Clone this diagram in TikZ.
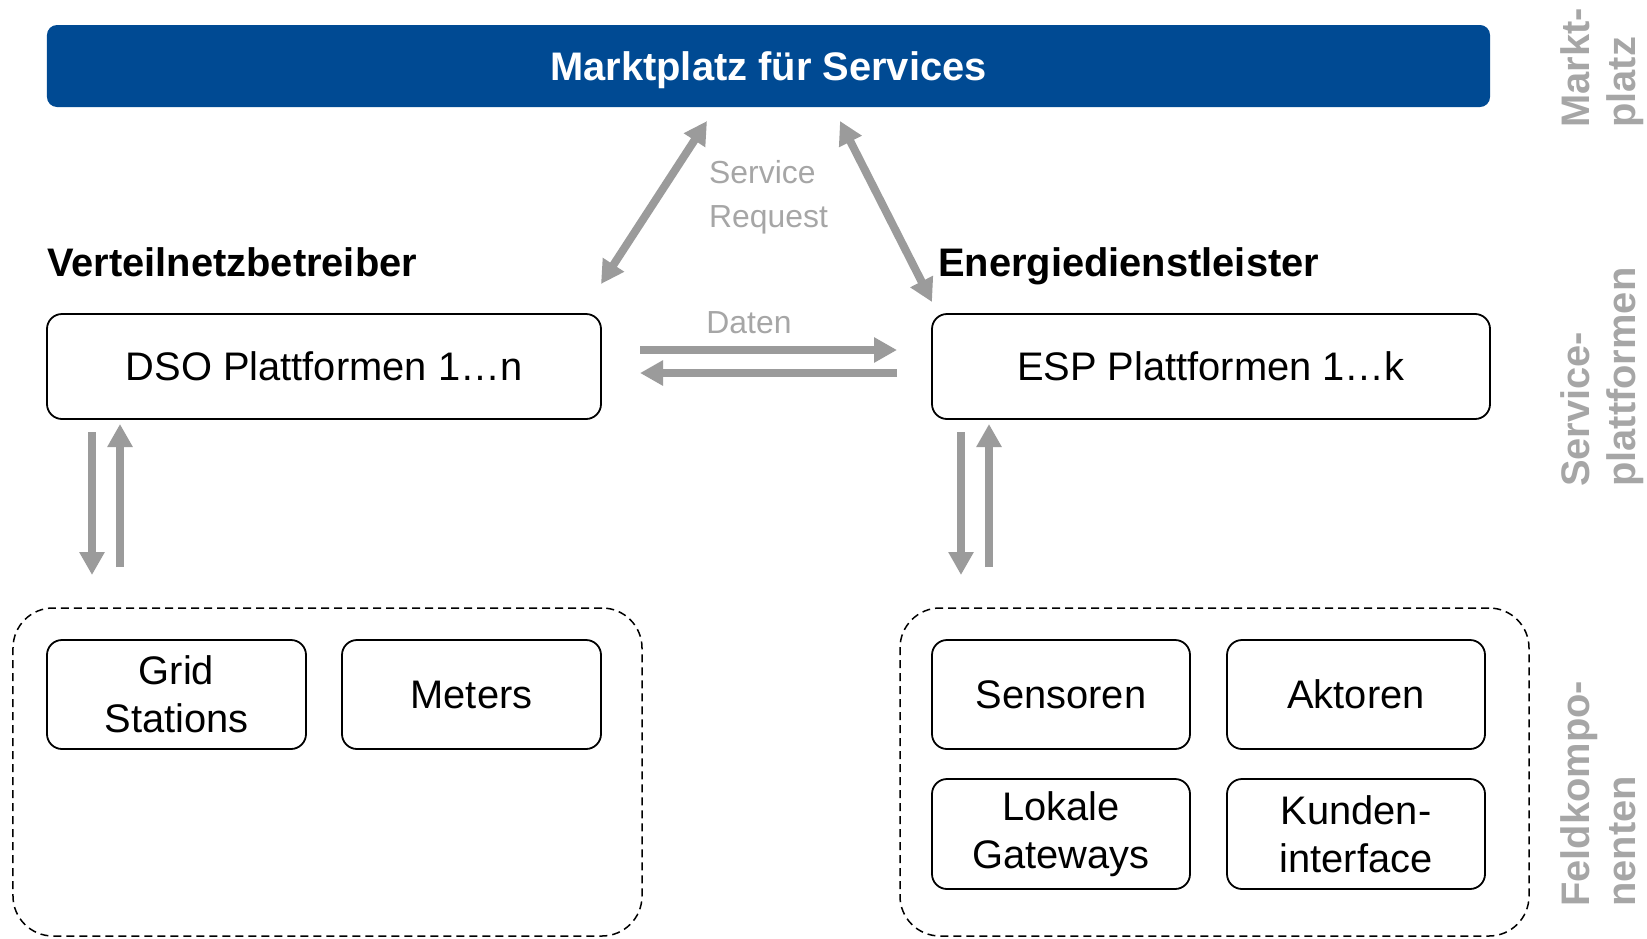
\documentclass[tikz,border=0pt]{standalone}
\usepackage{fontspec}
\setmainfont{Liberation Sans}
\usetikzlibrary{arrows.meta}
\definecolor{barblue}{HTML}{004A93}
\definecolor{flowgray}{HTML}{9B9B9B}
\definecolor{labelgray}{HTML}{A6A6A6}
\tikzset{
  box/.style={draw=black, line width=1.8bp, rounded corners=15bp, inner sep=0pt,
    align=center, font=\fontsize{40}{48}\selectfont},
  group/.style={draw=black, line width=1.5bp, dash pattern=on 8bp off 5bp,
    rounded corners=40bp, inner sep=0pt},
  tipshape/.tip={Triangle[width=24bp,length=23bp]},
  flow/.style={draw=flowgray, line width=8bp, -tipshape},
  flowboth/.style={draw=flowgray, line width=8bp, tipshape-tipshape},
  heading/.style={anchor=base west, inner sep=0pt, font=\bfseries\fontsize{40}{48}\selectfont},
  side/.style={rotate=90, anchor=north west, align=left, inner sep=0pt,
    text=labelgray, font=\bfseries\fontsize{40}{47}\selectfont},
}
\begin{document}
\begin{tikzpicture}[x=1bp,y=-1bp]
\useasboundingbox (0,0) rectangle (1647,938);

% marketplace bar
\node[fill=barblue, rounded corners=10bp, minimum width=1443bp, minimum height=82bp,
  inner sep=0pt, text depth=0pt, text=white, font=\bfseries\fontsize{40}{48}\selectfont]
  (market) at (768.5,66) {Marktplatz für Services};

% headings
\node[heading] (dsoHead) at (47,276) {Verteilnetzbetreiber};
\node[heading] (espHead) at (938,276) {Energiedienstleister};

% service platforms
\node[box, minimum width=554bp, minimum height=105bp] (dso) at (324,366.5) {DSO Plattformen 1…n};
\node[box, minimum width=558bp, minimum height=105bp] (esp) at (1211,366.5) {ESP Plattformen 1…k};

% field component groups
\node[group, minimum width=629bp, minimum height=328bp] (dsoField) at (327.5,772) {};
\node[group, minimum width=629bp, minimum height=328bp] (espField) at (1214.5,772) {};

% field components
\node[box, minimum width=259bp, minimum height=109bp] (grid) at (176.5,694.5) {Grid\\Stations};
\node[box, minimum width=259bp, minimum height=109bp] (meters) at (471.5,694.5) {Meters};
\node[box, minimum width=258bp, minimum height=109bp] (sens) at (1061,694.5) {Sensoren};
\node[box, minimum width=258bp, minimum height=109bp] (akt) at (1356,694.5) {Aktoren};
\node[box, minimum width=258bp, minimum height=110bp] (gw) at (1061,834) {Lokale\\Gateways};
\node[box, minimum width=258bp, minimum height=110bp] (kunde) at (1356,834) {Kunden-\\interface};

% labels on the flows
\node[anchor=north west, inner sep=0pt, align=left, text=labelgray,
  font=\fontsize{32}{44}\selectfont] (req) at (709,160) {Service\\Request};
\node[anchor=base, inner sep=0pt, text=labelgray, font=\fontsize{32}{38}\selectfont]
  (daten) at (749,333) {Daten};

% layer labels
\node[side] (lblMarkt) at (1560,128) {Markt-\\platz};
\node[side] (lblService) at (1560,487) {Service-\\plattformen};
\node[side] (lblFeld) at (1560,907) {Feldkompo-\\nenten};

% flow end points
\coordinate (mktL) at (707,121);
\coordinate (dsoTop) at (601,284);
\coordinate (mktR) at (840,121);
\coordinate (espTop) at (932,302);
\coordinate (datenA) at (640,350);
\coordinate (datenB) at (897,350);
\coordinate (datenC) at (897,373);
\coordinate (datenD) at (640,373);
\coordinate (dsoDownA) at (92,432);
\coordinate (dsoDownB) at (92,575);
\coordinate (dsoUpA) at (120,567);
\coordinate (dsoUpB) at (120,424);
\coordinate (espDownA) at (961,432);
\coordinate (espDownB) at (961,575);
\coordinate (espUpA) at (989,567);
\coordinate (espUpB) at (989,424);

% flows
\draw[flowboth] (mktL) -- (dsoTop);
\draw[flowboth] (mktR) -- (espTop);
\draw[flow] (datenA) -- (datenB);
\draw[flow] (datenC) -- (datenD);
\draw[flow] (dsoDownA) -- (dsoDownB);
\draw[flow] (dsoUpA) -- (dsoUpB);
\draw[flow] (espDownA) -- (espDownB);
\draw[flow] (espUpA) -- (espUpB);
\end{tikzpicture}
\end{document}
